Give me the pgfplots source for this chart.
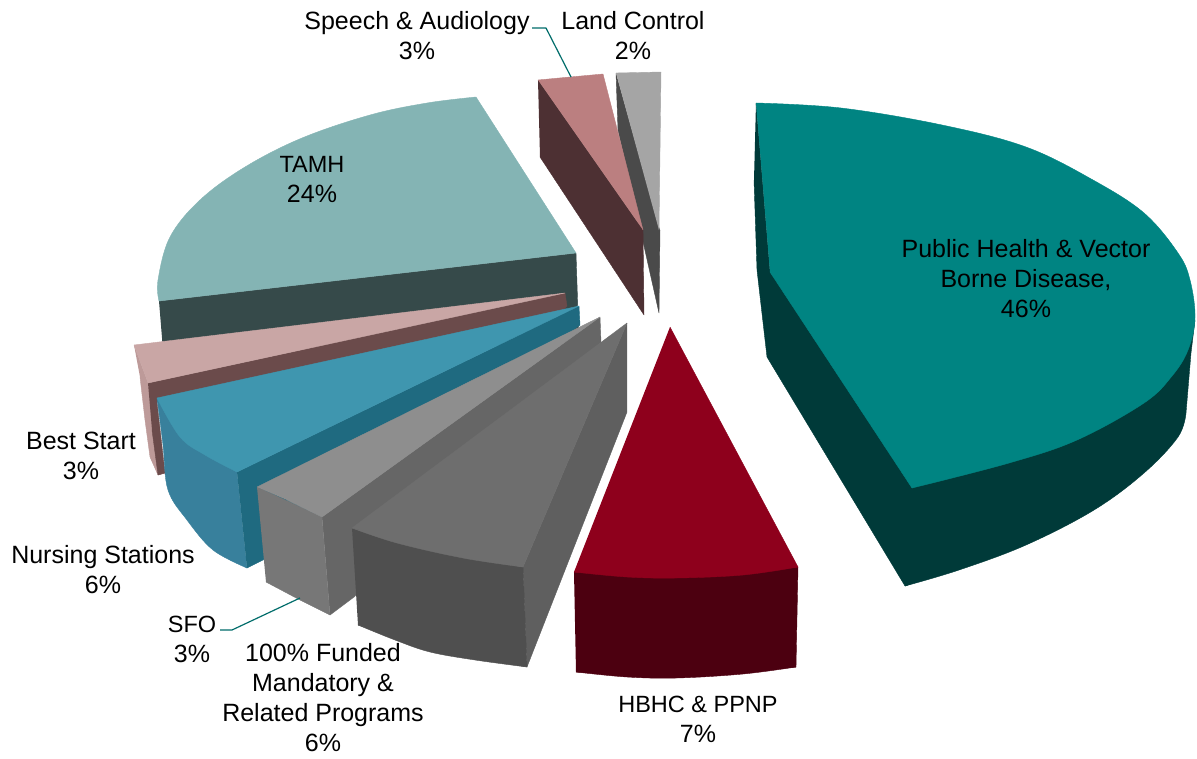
\documentclass[border=0pt]{standalone}
\usepackage{fontspec}
\setmainfont{Liberation Sans}
\usepackage{pgfplots}
\pgfplotsset{compat=1.18}
\definecolor{tealT}{HTML}{008482}
\definecolor{tealS}{HTML}{003A39}
\definecolor{tamhT}{HTML}{84B4B4}
\definecolor{tamhS}{HTML}{364A4A}
\definecolor{bestT}{HTML}{C9A6A5}
\definecolor{bestF}{HTML}{BD9A99}
\definecolor{bestS}{HTML}{6B4B4B}
\definecolor{nurT}{HTML}{3F96AF}
\definecolor{nurF}{HTML}{38809C}
\definecolor{nurS}{HTML}{1F6A80}
\definecolor{sfoT}{HTML}{8E8E8E}
\definecolor{sfoF}{HTML}{777777}
\definecolor{sfoS}{HTML}{666666}
\definecolor{funT}{HTML}{6E6E6E}
\definecolor{funF}{HTML}{4F4F4F}
\definecolor{funS}{HTML}{5F5F5F}
\definecolor{hbT}{HTML}{8E001C}
\definecolor{hbS}{HTML}{4C0010}
\definecolor{speT}{HTML}{BB7F80}
\definecolor{speS}{HTML}{4D3033}
\definecolor{lanT}{HTML}{A5A5A5}
\definecolor{lanS}{HTML}{4A4A4A}
\definecolor{lead}{HTML}{006C6A}
\newcommand{\sm}[1]{{\fontsize{23.5}{30}\selectfont #1}}
\begin{document}
\begin{tikzpicture}
\path[use as bounding box] (0,0) rectangle (1197pt,758pt);
\begin{axis}[at={(0,0)},anchor=south west,scale only axis,width=1197pt,height=758pt,
  xmin=0,xmax=1197,ymin=0,ymax=758,y dir=reverse,hide axis,clip=false,
  every axis plot/.append style={line width=0.4pt,line join=round},
  arc/.style={smooth,tension=0.6},
  nodes={font=\fontsize{25}{30}\selectfont,align=center,text=black}]
% Land Control
\addplot[fill=lanS,draw=lanS] coordinates {(616,73)(618,130)(659,313)(660,230)};
\addplot[fill=lanT,draw=lanT] coordinates {(616,73)(661,72)(659,230)};
% Speech
\addplot[fill=speS,draw=speS] coordinates {(538,80)(643,230)(644,315)(540,157)};
\addplot[fill=speT,draw=speT] coordinates {(538,80)(570,77)(603,74)(643,230)};
% Public Health sides
\addplot[fill=tealS,draw=tealS] coordinates {(756,103)(770,272)(930,480)(925,578)(905,586)(767,357)(757,270)(754,180)};
\addplot[fill=tealS,draw=tealS] coordinates {(912,488)(1195,320)(1191,353)(1186,413)(1094,505)(1026,540)(959,565)(905,586)};
\addplot[fill=tealS,draw=tealS,arc] coordinates {(1186,413)(1178,437)(1144,473)(1094,510)(1026,545)(959,570)(905,586)};
% Public Health top
\addplot[fill=tealT,draw=tealT,arc] coordinates {(756,103)(841,108)(942,125)(1026,147)(1093,180)(1144,213)(1178,253)(1190,280)(1195,318)(1188,350)(1172,376)(1144,403)(1077,440)(1009,463)(912,488)};
\addplot[fill=tealT,draw=tealT] coordinates {(756,103)(1100,300)(912,488)(770,272)};
% TAMH
\addplot[fill=tamhS,draw=tamhS] coordinates {(159,301)(576,253)(579,345)(163,350)};
\addplot[fill=tamhT,draw=tamhT,arc] coordinates {(476,97)(427,103)(370,115)(302,138)(245,167)(200,200)(170,237)(158,280)(159,301)};
\addplot[fill=tamhT,draw=tamhT] coordinates {(476,97)(576,253)(159,301)(250,190)};
% Best Start
\addplot[fill=bestF,draw=bestF] coordinates {(134,345)(148,383)(165,473)(158,475)(150,457)(145,420)(140,377)};
\addplot[fill=bestS,draw=bestS] coordinates {(148,383)(565,293)(567,306)(560,314)(157,402)(165,473)(158,475)(152,430)};
\addplot[fill=bestT,draw=bestT] coordinates {(134,345)(565,293)(148,383)};
% Nursing
\addplot[fill=nurF,draw=nurF,arc] coordinates {(157,398)(163,445)(168,490)(187,520)(213,550)(247,568)};
\addplot[fill=nurF,draw=nurF] coordinates {(157,398)(237,472)(247,568)(213,545)(190,515)(172,485)};
\addplot[fill=nurS,draw=nurS] coordinates {(237,472)(579,306)(580,325)(263,560)(247,568)};
\addplot[fill=nurT,draw=nurT,arc] coordinates {(157,398)(180,437)(205,455)(237,472)};
\addplot[fill=nurT,draw=nurT] coordinates {(157,398)(579,306)(237,472)(205,450)(180,430)};
% SFO
\addplot[fill=sfoS,draw=sfoS] coordinates {(322,517)(600,317)(601,342)(354,597)(330,615)};
\addplot[fill=sfoF,draw=sfoF] coordinates {(257,487)(322,517)(330,615)(300,600)(266,582)};
\addplot[fill=sfoT,draw=sfoT] coordinates {(257,487)(600,317)(322,517)(287,500)};
% 100% Funded
\addplot[fill=funS,draw=funS] coordinates {(627,323)(523,567)(527,667)(627,412)};
\addplot[fill=funF,draw=funF] coordinates {(352,528)(523,567)(527,667)(475,657)(430,648)(395,636)(358,625)};
\addplot[fill=funF,draw=funF,arc] coordinates {(358,625)(395,640)(430,652)(475,660)(527,667)};
\addplot[fill=funT,draw=funT,arc] coordinates {(352,528)(397,543)(463,558)(523,567)};
\addplot[fill=funT,draw=funT] coordinates {(352,528)(627,323)(523,567)(463,555)(397,540)};
% HBHC
\addplot[fill=hbS,draw=hbS] coordinates {(574,572)(798,567)(796,667)(743,672)(677,675)(627,674)(576,672)};
\addplot[fill=hbS,draw=hbS,arc] coordinates {(576,672)(627,677)(677,678)(743,674)(796,667)};
\addplot[fill=hbT,draw=hbT,arc] coordinates {(798,567)(743,575)(677,578)(627,577)(574,572)};
\addplot[fill=hbT,draw=hbT] coordinates {(670,327)(798,567)(743,573)(677,575)(627,574)(574,572)};
% leader lines
\addplot[draw=lead,line width=1.2pt] coordinates {(532,28)(546,28)(571,77)};
\addplot[draw=lead,line width=1.2pt] coordinates {(220,630)(232,630)(300,598)};
% labels
\node at (axis cs:1026,279) {Public Health \& Vector\\Borne Disease,\\46\%};
\node at (axis cs:312,179) {\sm{TAMH}\\24\%};
\node at (axis cs:417,36) {Speech \& Audiology\\3\%};
\node at (axis cs:633,36) {Land Control\\2\%};
\node at (axis cs:81,456) {Best Start\\3\%};
\node at (axis cs:103,570) {Nursing Stations\\6\%};
\node at (axis cs:192,639) {\sm{SFO}\\3\%};
\node at (axis cs:323,698) {100\% Funded\\Mandatory \&\\Related Programs\\6\%};
\node at (axis cs:698,719) {\sm{HBHC \& PPNP}\\7\%};
\end{axis}
\end{tikzpicture}
\end{document}
